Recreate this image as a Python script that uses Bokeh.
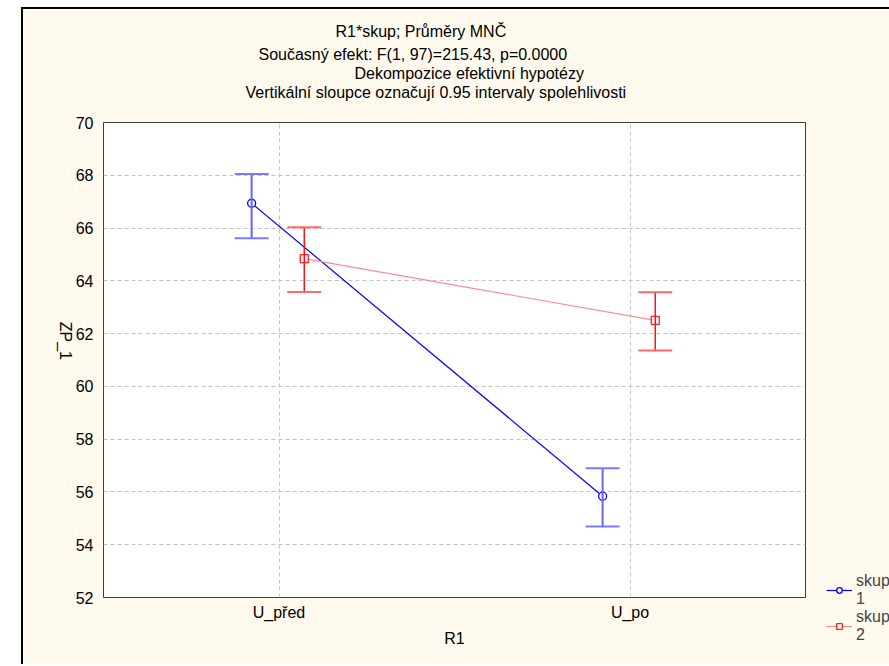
import math

from bokeh.embed import file_html
from bokeh.layouts import column, row
from bokeh.models import (ColumnDataSource, FixedTicker, Legend, LegendItem,
                          Range1d, Spacer, TeeHead, Title, Whisker)
from bokeh.plotting import figure
from bokeh.resources import INLINE

# LS means of ZP_1 by R1 and group, with 0.95 confidence limits
categories = ["U_před", "U_po"]
groups = ["1", "2"]
means_1 = [66.94, 55.84]
lower_1 = [65.61, 54.69]
upper_1 = [68.05, 56.90]
means_2 = [64.84, 62.50]
lower_2 = [63.58, 61.36]
upper_2 = [66.03, 63.57]
y_ticks = [52, 54, 56, 58, 60, 62, 64, 66, 68, 70]

title_text = "R1*skup; Průměry MNČ"
subtitle_lines = [
    "Současný efekt: F(1, 97)=215.43, p=0.0000",
    "Dekompozice efektivní hypotézy",
    "Vertikální sloupce označují 0.95 intervaly spolehlivosti",
]

FONT = "Liberation Sans"
FS = "16px"
CREAM = "#FFF9EE"

p = figure(
    frame_width=700, frame_height=473,
    x_range=Range1d(-0.5, 1.5), y_range=Range1d(52, 70),
    output_backend="svg", toolbar_location=None,
    min_border_left=80, min_border_right=86,
    min_border_top=113, min_border_bottom=69,
    background_fill_color="white", border_fill_color=CREAM,
    outline_line_color="#3c3c3c", outline_line_width=1,
)

# axes
p.yaxis.ticker = FixedTicker(ticks=y_ticks)
p.xaxis.ticker = FixedTicker(ticks=list(range(len(categories))))
p.xaxis.major_label_overrides = {i: c for i, c in enumerate(categories)}
for ax in (p.xaxis, p.yaxis):
    ax.axis_line_color = None
    ax.major_tick_line_color = None
    ax.minor_tick_line_color = None
    ax.major_tick_out = 0
    ax.major_tick_in = 0
    ax.minor_tick_out = 0
    ax.minor_tick_in = 0
    ax.major_label_text_font = FONT
    ax.major_label_text_font_size = FS
    ax.major_label_text_color = "black"
    ax.axis_label_text_font = FONT
    ax.axis_label_text_font_size = FS
    ax.axis_label_text_font_style = "normal"
    ax.axis_label_text_color = "black"
p.xaxis.major_label_standoff = 6
p.yaxis.major_label_standoff = 10
p.xaxis.axis_label = "R1"
p.xaxis.axis_label_standoff = 6
p.yaxis.axis_label = "ZP_1"
p.yaxis.axis_label_standoff = 7
yax = p.yaxis[0]
if "axis_label_orientation" in yax.properties():
    yax.axis_label_orientation = -math.pi / 2

for g in (p.xgrid, p.ygrid):
    g.grid_line_color = "#c4c4c4"
    g.grid_line_dash = "4 3"
    g.grid_line_width = 1

# series
series = [
    dict(means=means_1, lower=lower_1, upper=upper_1, shift=-0.078,
         line="#0000ff", bar="#6464ff", cap="#7a7aff", marker="circle",
         edge="#0000ff", bar_width=2),
    dict(means=means_2, lower=lower_2, upper=upper_2, shift=0.072,
         line="#ff8c8c", bar="#ff1010", cap="#ff6a6a", marker="square",
         edge="#ff2020", bar_width=1.5),
]

items = []
for name, s in zip(groups, series):
    xs = [i + s["shift"] for i in range(len(categories))]
    src = ColumnDataSource(dict(x=xs, y=s["means"], lo=s["lower"], hi=s["upper"]))
    w = Whisker(source=src, base="x", lower="lo", upper="hi", dimension="height",
                line_color=s["bar"], line_width=s["bar_width"],
                upper_head=TeeHead(size=34, line_color=s["cap"], line_width=2),
                lower_head=TeeHead(size=34, line_color=s["cap"], line_width=2),
                level="glyph")
    p.add_layout(w)
    ln = p.line("x", "y", source=src, line_color=s["line"], line_width=1.2)
    mk = p.scatter("x", "y", source=src, marker=s["marker"], size=8,
                   line_color=s["edge"], line_width=1.3, fill_color="white")
    items.append(LegendItem(label="skup\n" + name, renderers=[ln, mk]))

legend = Legend(items=items, location=(21, -47), orientation="vertical",
                label_text_font=FONT, label_text_font_size=FS,
                label_standoff=4, glyph_width=26, glyph_height=14,
                padding=0, margin=0, spacing=0,
                background_fill_alpha=0, border_line_alpha=0)
p.add_layout(legend, "right")

# title block above the frame, stacked upwards from the frame
title_rows = [
    (" ", 0, 2),
    (subtitle_lines[2], 142, 0),
    (subtitle_lines[1], 251, 0),
    (subtitle_lines[0], 155, 0),
    (title_text, 232, 8),
]
for text, offset, standoff in title_rows:
    p.add_layout(Title(text=text, align="left", offset=offset, standoff=standoff,
                       vertical_align="middle", text_font=FONT,
                       text_font_size=FS, text_font_style="normal",
                       text_color="black"), "above")

p.styles = {"border-left": "2px solid black", "border-top": "2px solid black"}

page = column(Spacer(height=7), row(Spacer(width=21), p))

with open("out.html", "w") as f:
    f.write(file_html(page, INLINE))
